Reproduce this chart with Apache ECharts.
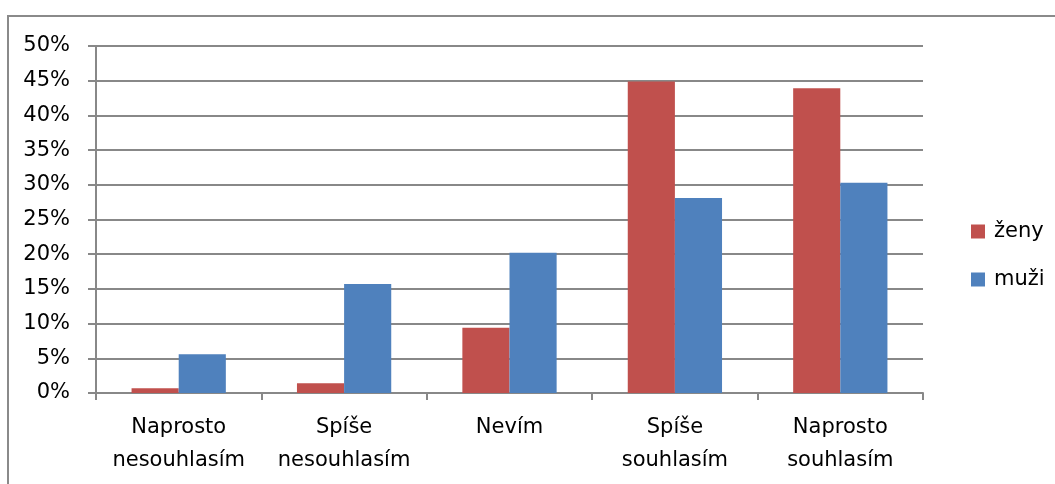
<!DOCTYPE html>
<html>
<head>
<meta charset="utf-8">
<script src="https://cdn.jsdelivr.net/npm/echarts@6/dist/echarts.min.js"></script>
<style>
html,body{margin:0;padding:0;background:#fff;}
#c{width:1055px;height:484px;}
</style>
</head>
<body>
<div id="c"></div>
<script>
var categories = ['Naprosto\nnesouhlasím', 'Spíše\nnesouhlasím', 'Nevím', 'Spíše\nsouhlasím', 'Naprosto\nsouhlasím'];
var zeny = [0.7, 1.4, 9.4, 44.9, 43.9];
var muzi = [5.6, 15.7, 20.2, 28.1, 30.3];
var seriesNames = ['ženy', 'muži'];

var FONT = 'DejaVu Sans';
var chart = echarts.init(document.getElementById('c'), null, {renderer: 'canvas'});
chart.setOption({
  animation: false,
  backgroundColor: '#ffffff',
  textStyle: {fontFamily: FONT},
  graphic: [{
    type: 'polyline',
    shape: {points: [[8, 490], [8, 16], [1060, 16]]},
    style: {stroke: '#8a8a8a', lineWidth: 2, fill: null}
  }],
  grid: {left: 96, right: 132, top: 46, bottom: 91, containLabel: false},
  legend: {
    orient: 'vertical',
    left: 966,
    top: 216,
    itemWidth: 14,
    itemHeight: 14,
    itemGap: 27,
    icon: 'rect',
    textStyle: {fontFamily: FONT, fontSize: 21, color: '#000', padding: [0, 0, 0, 4]},
    data: seriesNames
  },
  xAxis: {
    type: 'category',
    data: categories,
    axisLine: {lineStyle: {color: '#888888', width: 2}},
    axisTick: {show: true, length: 7, lineStyle: {color: '#888888', width: 2}},
    axisLabel: {fontFamily: FONT, fontSize: 21, color: '#000', lineHeight: 33, margin: 18, interval: 0}
  },
  yAxis: {
    type: 'value',
    min: 0, max: 50, interval: 5,
    axisLine: {show: true, lineStyle: {color: '#888888', width: 2}},
    axisTick: {show: true, length: 8, lineStyle: {color: '#888888', width: 2}},
    splitLine: {lineStyle: {color: '#888888', width: 2}},
    axisLabel: {fontFamily: FONT, fontSize: 21, color: '#000', margin: 26, formatter: '{value}%'}
  },
  series: [
    {name: seriesNames[0], type: 'bar', data: zeny, barGap: '0%', barCategoryGap: '43%',
     itemStyle: {color: '#C0504D'}},
    {name: seriesNames[1], type: 'bar', data: muzi, barGap: '0%', barCategoryGap: '43%',
     itemStyle: {color: '#4F81BD'}}
  ]
});
</script>
</body>
</html>
